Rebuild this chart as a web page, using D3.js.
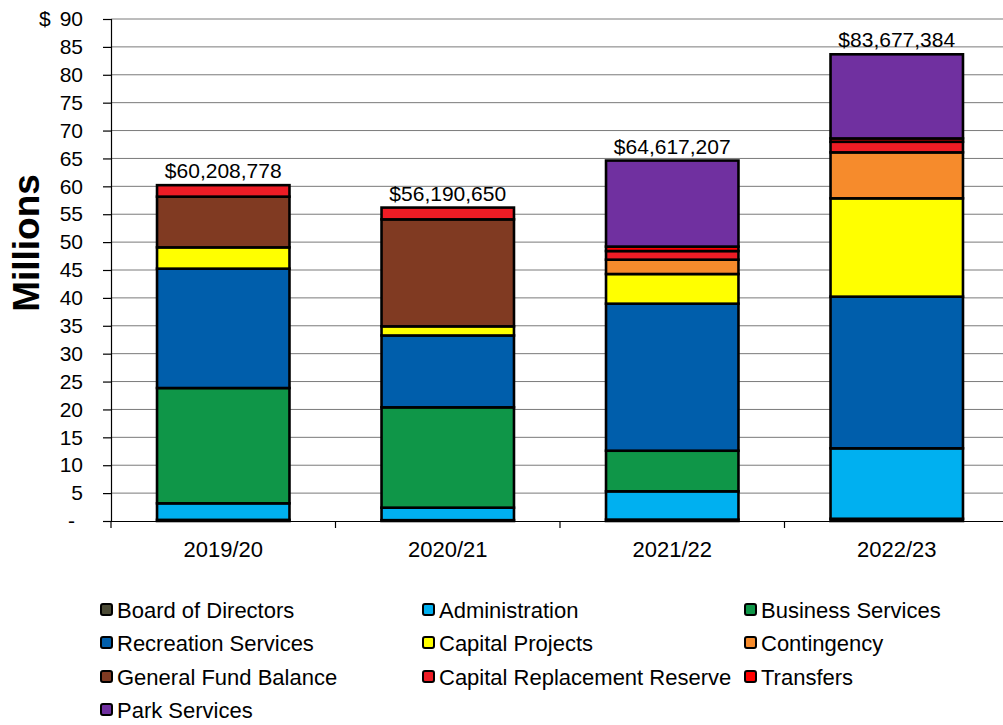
<!DOCTYPE html>
<html>
<head>
<meta charset="utf-8">
<script src="https://cdn.jsdelivr.net/npm/d3@7"></script>
<style>
  html, body { margin: 0; padding: 0; background: #fff; }
  svg { display: block; font-family: "Liberation Sans", Arial, sans-serif; }
</style>
</head>
<body>
<svg id="chart" width="1003" height="725"></svg>
<script>
// Budget by department, in millions of dollars
const years = ["2019/20", "2020/21", "2021/22", "2022/23"];
const totals = [60208778, 56190650, 64617207, 83677384];

const boardOfDirectors          = [0.20, 0.15, 0.25, 0.40];
const administration            = [2.97, 2.24, 5.07, 12.63];
const businessServices          = [20.67, 17.99, 7.28, 0];
const recreationServices        = [21.40, 12.88, 26.36, 27.19];
const capitalProjects           = [3.82, 1.64, 5.32, 17.63];
const contingency               = [0, 0, 2.57, 8.24];
const generalFundBalance        = [9.09, 19.18, 0, 0];
const capitalReplacementReserve = [2.06, 2.11, 1.55, 1.90];
const transfers                 = [0, 0, 0.80, 0.60];
const parkServices              = [0, 0, 15.42, 15.08];

const seriesNames = [
  "Board of Directors", "Administration", "Business Services",
  "Recreation Services", "Capital Projects", "Contingency",
  "General Fund Balance", "Capital Replacement Reserve", "Transfers",
  "Park Services"
];
const seriesValues = [
  boardOfDirectors, administration, businessServices,
  recreationServices, capitalProjects, contingency,
  generalFundBalance, capitalReplacementReserve, transfers,
  parkServices
];
const seriesColors = [
  "#4b4a35", "#00b0f0", "#0f9648",
  "#005eab", "#ffff00", "#f68b2c",
  "#803a22", "#ee1c25", "#ff0000",
  "#7030a0"
];
const yTicks = d3.range(0, 91, 5);

const svg = d3.select("#chart");
const plot = { left: 111, right: 1009, top: 19, bottom: 521 };

const x = d3.scaleBand().domain(years).range([plot.left, plot.right]).padding(0);
const y = d3.scaleLinear().domain([0, 90]).range([plot.bottom, plot.top]);
const barW = x.bandwidth() * 0.59;

// Gridlines
svg.append("g")
  .selectAll("line")
  .data(yTicks.filter(d => d > 0))
  .join("line")
  .attr("x1", plot.left).attr("x2", plot.right)
  .attr("y1", d => y(d)).attr("y2", d => y(d))
  .attr("stroke", "#7a7a7a").attr("stroke-width", 1);

// Y axis
const yAxis = svg.append("g")
  .attr("transform", `translate(${plot.left},0)`)
  .call(d3.axisLeft(y).tickValues(yTicks).tickSize(8).tickPadding(20)
    .tickFormat(d => d === 0 ? "-" : d));
yAxis.select(".domain").attr("stroke", "#000").attr("stroke-width", 1.2);
yAxis.selectAll(".tick line").attr("stroke", "#000").attr("stroke-width", 1.2);
yAxis.selectAll(".tick text")
  .attr("font-size", 21).attr("fill", "#000")
  .attr("font-family", "Liberation Sans, Arial, sans-serif")
  .attr("dx", d => d === 0 ? -8 : 0);
svg.append("text")
  .attr("x", 39).attr("y", y(90)).attr("dy", "0.32em")
  .attr("font-size", 21).text("$");

// X axis
const xAxis = svg.append("g")
  .attr("transform", `translate(0,${plot.bottom})`)
  .call(d3.axisBottom(x).tickSize(0).tickPadding(20));
xAxis.select(".domain").attr("stroke", "#000").attr("stroke-width", 1.2);
xAxis.selectAll(".tick text")
  .attr("font-size", 22).attr("fill", "#000")
  .attr("font-family", "Liberation Sans, Arial, sans-serif");
// category separators
svg.append("g")
  .selectAll("line")
  .data(years)
  .join("line")
  .attr("x1", d => x(d)).attr("x2", d => x(d))
  .attr("y1", plot.bottom).attr("y2", plot.bottom + 7)
  .attr("stroke", "#000").attr("stroke-width", 1.2);

// Stacked bars
const rows = years.map((yr, i) => {
  const r = { year: yr };
  seriesNames.forEach((n, k) => { r[n] = seriesValues[k][i]; });
  return r;
});
const stacked = d3.stack().keys(seriesNames)(rows);

svg.append("g")
  .selectAll("g")
  .data(stacked)
  .join("g")
  .attr("fill", (s, k) => seriesColors[k])
  .selectAll("rect")
  .data(s => s.filter(d => d[1] - d[0] > 0))
  .join("rect")
  .attr("x", d => x(d.data.year) + (x.bandwidth() - barW) / 2)
  .attr("width", barW)
  .attr("y", d => y(d[1]))
  .attr("height", d => y(d[0]) - y(d[1]))
  .attr("stroke", "#000").attr("stroke-width", 2.6);

// Total labels
const topLayer = stacked[stacked.length - 1];
svg.append("g")
  .selectAll("text")
  .data(years)
  .join("text")
  .attr("x", d => x(d) + x.bandwidth() / 2)
  .attr("y", (d, i) => y(topLayer[i][1]) - 7)
  .attr("text-anchor", "middle")
  .attr("font-size", 21)
  .text((d, i) => "$" + d3.format(",")(totals[i]));

// Axis title
svg.append("text")
  .attr("transform", "translate(39,243) rotate(-90)")
  .attr("text-anchor", "middle")
  .attr("font-size", 37).attr("font-weight", "bold")
  .text("Millions");

// Legend
const legendCols = [100, 422, 744];
const legendRows = [610, 643, 677, 710];
const legend = svg.append("g")
  .selectAll("g")
  .data(seriesNames)
  .join("g")
  .attr("transform", (d, k) => `translate(${legendCols[k % 3]},${legendRows[Math.floor(k / 3)]})`);
legend.append("rect")
  .attr("x", 1).attr("y", -6).attr("width", 11).attr("height", 11)
  .attr("rx", 2)
  .attr("fill", (d, k) => seriesColors[k])
  .attr("stroke", "#000").attr("stroke-width", 2);
legend.append("text")
  .attr("x", 17).attr("dy", "0.35em")
  .attr("font-size", 22)
  .text(d => d);
</script>
</body>
</html>
